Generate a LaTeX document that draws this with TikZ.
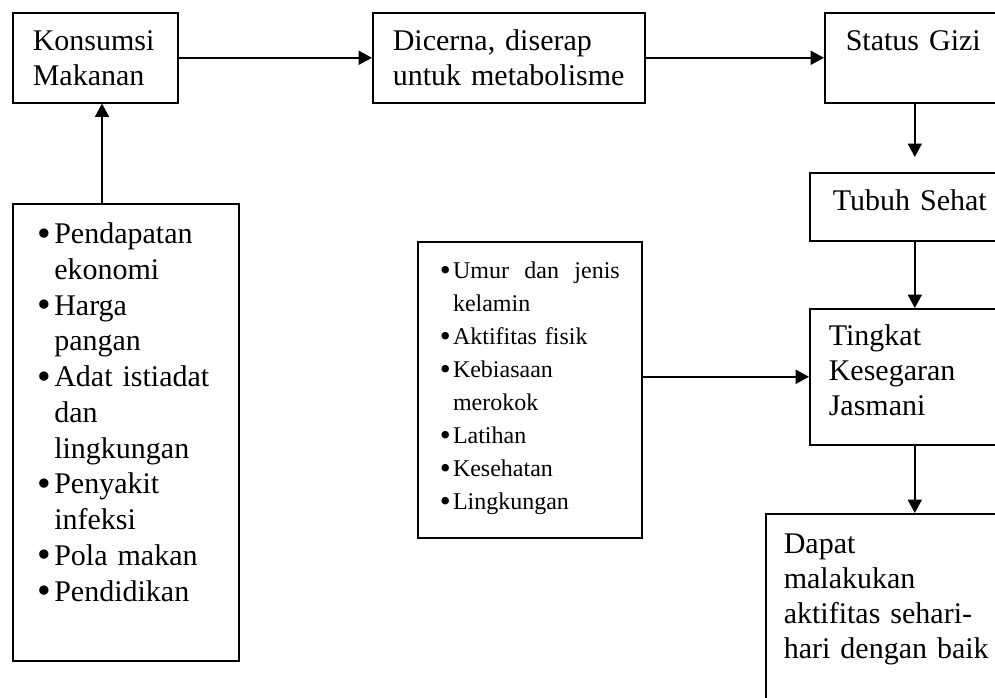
\documentclass[tikz,border=0pt]{standalone}
\usepackage{fontspec}
\setmainfont{Liberation Serif}
\usetikzlibrary{arrows.meta, positioning}
\newcommand{\bul}{\makebox[0.55em][l]{\raisebox{-0.08em}{\scalebox{1.3}{\textbullet}}}}
\newcommand{\ind}{\hspace*{0.55em}}
\tikzset{
  gzbox/.style={rectangle, draw, line width=1.2pt, anchor=north west, align=left,
    inner ysep=0pt, font=\fontsize{22.5pt}{26.25pt}\selectfont},
  gzlist/.style={gzbox, font=\fontsize{22.5pt}{26.8pt}\selectfont},
  gzsmall/.style={gzbox, font=\fontsize{18pt}{24.7pt}\selectfont},
  gzarr/.style={-{Triangle[length=10pt,width=10.5pt]}, line width=1.2pt},
}

\begin{document}
\begin{tikzpicture}[x=0.75pt, y=-0.75pt]
        \useasboundingbox (0,0) rectangle (995,698);
        \clip (0,0) rectangle (995,698);
        \fill[white] (0,0) rectangle (995,698);
        \node[gzbox, inner xsep=15pt, text width=93.75pt, text height=28.5pt, text depth=39pt] (konsumsi) at (12,12) {Konsumsi\\Makanan};
        \node[gzbox, inner xsep=15pt, text width=174pt, text height=28.5pt, text depth=39pt] (cerna) at (372,12) {Dicerna, diserap\\untuk metabolisme};
        \node[gzbox, inner xsep=15.75pt, text width=103.5pt, text height=28.5pt, text depth=39pt] (gizi) at (824,12) {Status Gizi};
        \node[gzbox, inner xsep=17.25pt, text width=123pt, text height=28.5pt, text depth=22.5pt] (sehat) at (809,172) {Tubuh Sehat};
        \node[gzbox, inner xsep=14.25pt, text width=129pt, text height=27.75pt, text depth=74.25pt] (bugar) at (809,308) {Tingkat\\Kesegaran\\Jasmani};
        \node[gzbox, inner xsep=13.5pt, text width=196.5pt, text height=30pt, text depth=140pt] (aktif) at (765,513) {Dapat\\malakukan\\aktifitas sehari-\\hari dengan baik};
        \node[gzlist, inner xsep=18.75pt, text width=132pt, text height=30pt, text depth=312.75pt] (sosial) at (12,203)
          {\bul Pendapatan\\ \ind ekonomi\\ \bul Harga\\ \ind pangan\\ \bul Adat istiadat\\ \ind dan\\ \ind lingkungan\\
           \bul Penyakit\\ \ind infeksi\\ \bul Pola makan\\ \bul Pendidikan};
        \node[gzsmall, inner xsep=16.5pt, text width=135pt, text height=27.75pt, text depth=194.25pt] (pribadi) at (417,241)
          {\bul Umur \hfill dan \hfill jenis\\ \ind kelamin\\ \bul Aktifitas fisik\\ \bul Kebiasaan\\ \ind merokok\\
           \bul Latihan\\ \bul Kesehatan\\ \bul Lingkungan};
        \coordinate (upx) at (102,0);
        \draw[gzarr] (sosial.north -| upx) -- (konsumsi.south -| upx);
        \draw[gzarr] (konsumsi) -- (cerna);
        \draw[gzarr] (cerna) -- (gizi);
        \draw[gzarr, shorten >=11.25pt] (gizi) -- (sehat);
        \draw[gzarr] (sehat) -- (bugar);
        \draw[gzarr] (pribadi.east |- bugar.west) -- (bugar.west);
        \draw[gzarr] (bugar) -- (aktif);
      \end{tikzpicture}
\end{document}
